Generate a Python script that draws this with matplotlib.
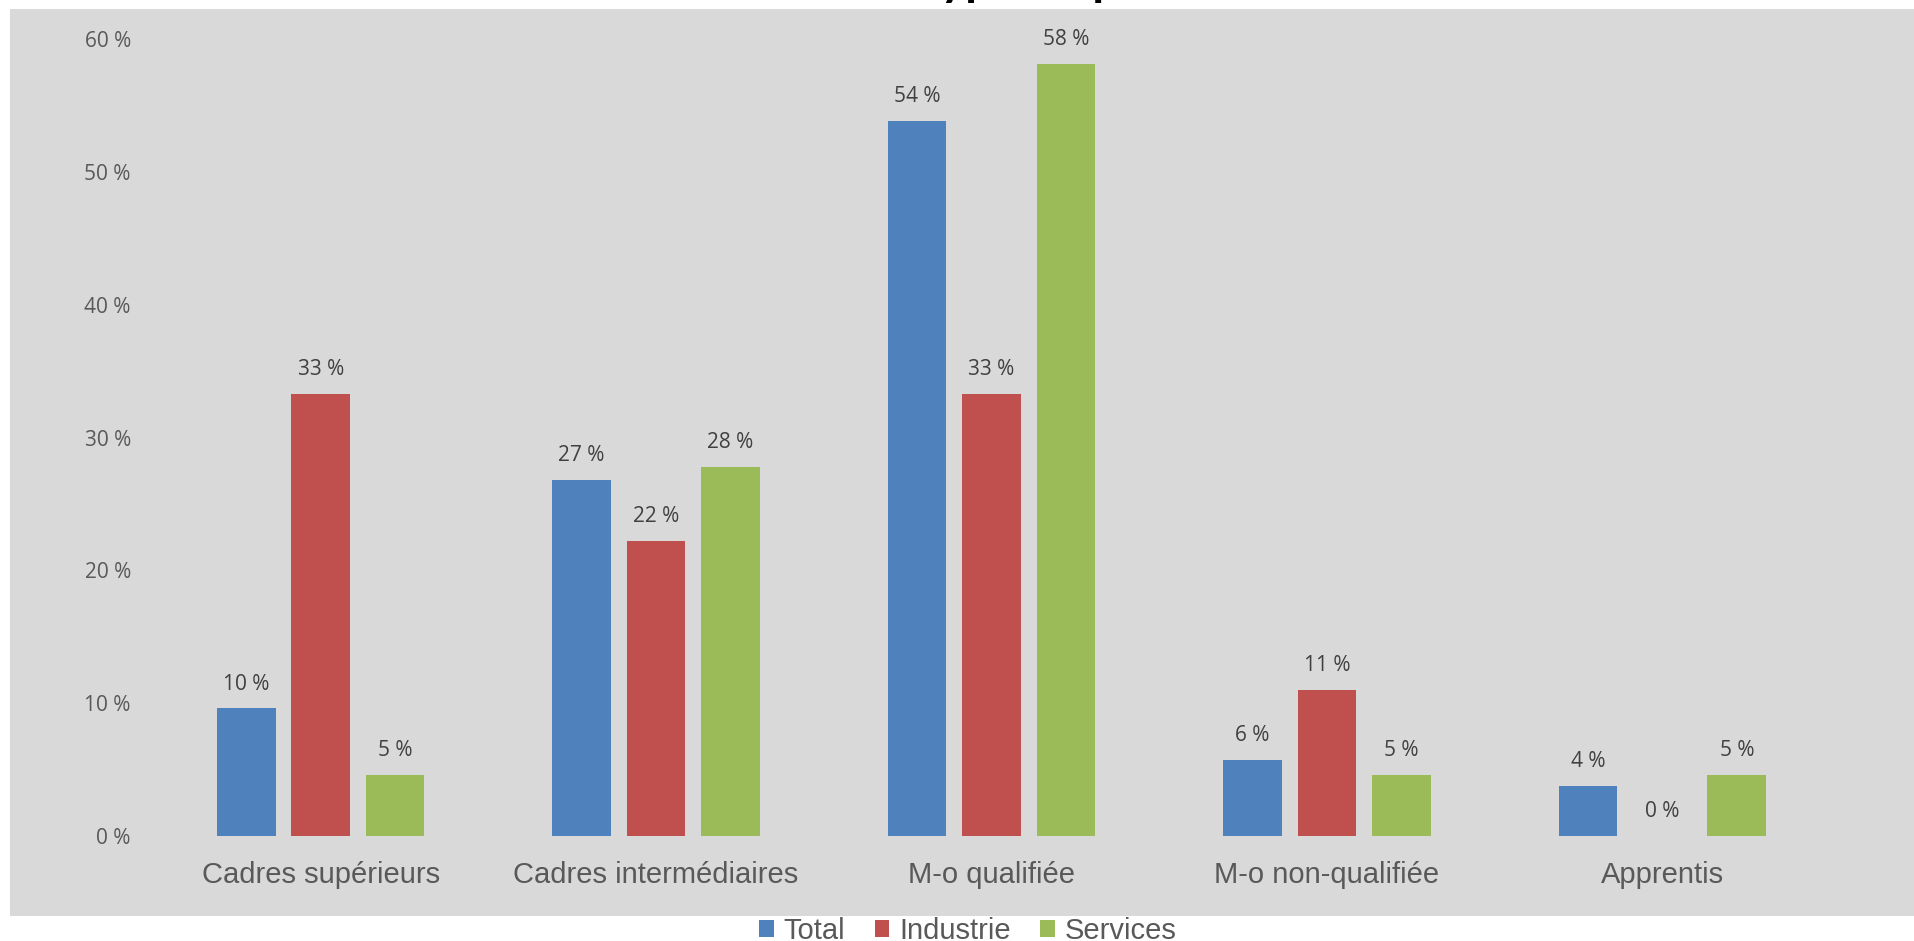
import matplotlib
matplotlib.use("Agg")
import matplotlib.pyplot as plt
from matplotlib.patches import Rectangle
import numpy as np

categories = ["Cadres supérieurs", "Cadres intermédiaires", "M-o qualifiée",
              "M-o non-qualifiée", "Apprentis"]
series_names = ["Total", "Industrie", "Services"]
total = [9.6, 26.8, 53.8, 5.7, 3.8]
industrie = [33.3, 22.2, 33.3, 11.0, 0.0]
services = [4.6, 27.8, 58.1, 4.6, 4.6]
yticks = [0, 10, 20, 30, 40, 50, 60]
title_text = "Type de postes"

colors = ["#4F81BD", "#C0504D", "#9BBB59"]
W, H = 1914, 941
fig = plt.figure(figsize=(W / 100, H / 100), dpi=100)
fig.patch.set_facecolor("white")
fig.add_artist(Rectangle((10 / W, 1 - 916 / H), 1 - 10 / W, (916 - 9) / H,
                         transform=fig.transFigure, facecolor="#D9D9D9",
                         edgecolor="none", zorder=-5))

ax = fig.add_axes([153 / W, 1 - 836 / H, (1830 - 153) / W, (836 - 39) / H])
ax.set_facecolor("none")
for s in ax.spines.values():
    s.set_visible(False)

x = np.arange(len(categories))
step, bw = 0.222, 0.1745
for k, (name, vals) in enumerate(zip(series_names, [total, industrie, services])):
    bars = ax.bar(x + (k - 1) * step, vals, width=bw, color=colors[k], label=name, zorder=2)
    ax.bar_label(bars, labels=[f"{round(v)} %" for v in vals], padding=10,
                 fontsize=15, color="#404040", family="Open Sans")

ax.set_xlim(-0.5, len(categories) - 0.5)
ax.set_ylim(0, 60)
ax.set_yticks(yticks)
ax.set_yticklabels([f"{v} %" for v in yticks], fontsize=15, color="#595959", family="Open Sans")
ax.set_xticks(x)
ax.set_xticklabels(categories, fontsize=21, color="#595959", family="Liberation Sans")
ax.tick_params(axis="y", length=0, pad=16)
ax.tick_params(axis="x", length=0, pad=18)

leg = fig.legend(loc="center", bbox_to_anchor=(968 / W, 10 / H), ncol=3, frameon=False,
                 prop={"family": "Liberation Sans", "size": 21},
                 handlelength=0.5, handleheight=0.5, handletextpad=0.35,
                 columnspacing=1.0, borderaxespad=0)
for t in leg.get_texts():
    t.set_color("#595959")

renderer = fig.canvas.get_renderer()
tmp = fig.text(0, 0, "T", fontsize=34, fontweight="bold", family="Lato")
wT = tmp.get_window_extent(renderer).width
tmp.remove()
fig.text((940 - wT) / W, 1 + 5 / H, title_text, ha="left", va="baseline",
         fontsize=34, fontweight="bold", family="Lato", color="black")

fig.savefig("out.png", dpi=100)
